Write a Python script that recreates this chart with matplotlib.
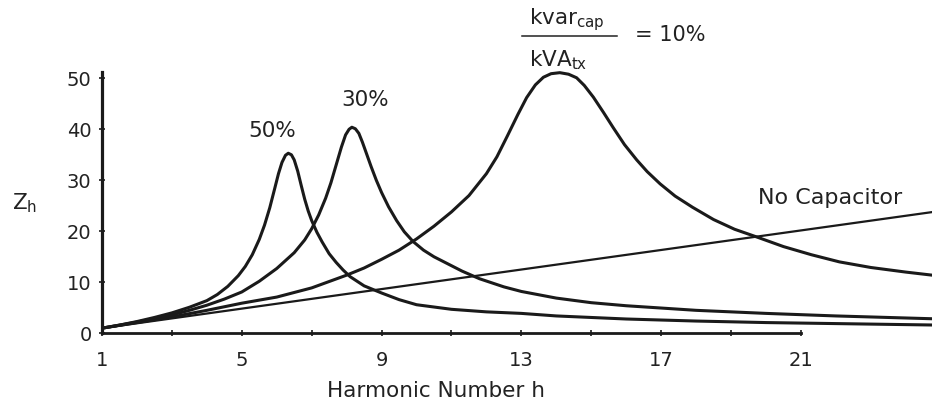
import matplotlib
matplotlib.use("Agg")
import matplotlib.pyplot as plt
from matplotlib.lines import Line2D

plt.rcParams['font.family'] = ['DejaVu Sans']
plt.rcParams['mathtext.fontset'] = 'dejavusans'

# ---- data ----
h_nocap = [1.0, 25.0]
z_nocap = [1.0, 24.0]

h_10 = [1, 2, 3, 4, 5, 6, 7, 8, 8.5, 9, 9.5, 10, 10.5, 11, 11.5, 12.0, 12.3, 12.6,
        12.9, 13.15, 13.4, 13.63, 13.85, 14.1, 14.35, 14.58, 14.8, 15.06, 15.35,
        15.63, 15.95, 16.3, 16.6, 16.97, 17.4, 17.9, 18.5, 19.1, 19.77, 20.5, 21.3,
        22.1, 23, 24, 25]
z_10 = [1.0, 2.1, 3.2, 4.5, 5.9, 7.1, 8.9, 11.4, 12.8, 14.5, 16.3, 18.5, 21.0, 23.8,
        27.0, 31.3, 34.6, 38.7, 42.9, 46.2, 48.7, 50.2, 50.9, 51.1, 50.8, 50.1, 48.6,
        46.3, 43.3, 40.3, 37.0, 34.0, 31.7, 29.3, 26.9, 24.7, 22.3, 20.4, 18.8, 17.0,
        15.4, 14.0, 12.9, 12.0, 11.2]

h_30 = [1, 1.5, 2, 2.5, 3, 3.5, 4, 4.5, 5, 5.5, 6.0, 6.5, 6.8, 7.0, 7.2, 7.4, 7.55,
        7.7, 7.85, 7.97, 8.07, 8.15, 8.25, 8.35, 8.45, 8.57, 8.7, 8.85, 9.0, 9.2, 9.43,
        9.65, 9.9, 10.2, 10.5, 10.9, 11.3, 11.8, 12.5, 13, 14, 15, 16, 18, 20, 22, 25]
z_30 = [1.0, 1.6, 2.2, 2.9, 3.6, 4.5, 5.5, 6.7, 8.1, 10.2, 12.7, 15.8, 18.3, 20.5,
        23.2, 26.5, 29.5, 33.0, 36.5, 38.9, 40.0, 40.4, 40.1, 39.2, 37.5, 35.2, 32.7,
        30.0, 27.6, 24.8, 22.1, 19.9, 18.0, 16.3, 15.0, 13.6, 12.2, 10.7, 9.1, 8.2,
        6.9, 6.0, 5.4, 4.5, 3.9, 3.4, 2.8]

h_50 = [1.0, 1.5, 2.0, 2.5, 3.0, 3.5, 4.0, 4.3, 4.6, 4.9, 5.1, 5.3, 5.5, 5.65, 5.8,
        5.95, 6.05, 6.15, 6.25, 6.33, 6.42, 6.5, 6.6, 6.7, 6.8, 6.9, 7.0, 7.15, 7.3,
        7.5, 7.7, 7.9, 8.1, 8.5, 9.0, 9.5, 10, 11, 12, 13, 14, 16, 18, 20, 22, 25]
z_50 = [1.0, 1.6, 2.3, 3.1, 4.0, 5.1, 6.4, 7.6, 9.2, 11.3, 13.1, 15.4, 18.4, 21.2,
        24.6, 28.6, 31.3, 33.5, 34.9, 35.3, 35.0, 34.0, 31.8, 29.0, 26.3, 24.0, 22.1,
        19.8, 17.9, 15.6, 13.9, 12.4, 11.1, 9.3, 7.9, 6.6, 5.6, 4.7, 4.2, 3.9, 3.4,
        2.8, 2.4, 2.1, 1.9, 1.6]

x_major = [1, 5, 9, 13, 17, 21]
x_minor = [3, 7, 11, 15, 19]
y_ticks = [0, 10, 20, 30, 40, 50]

ink = '#1a1a1a'
txt = '#222222'

W, H = 932, 403
fig = plt.figure(figsize=(W / 100, H / 100), dpi=100)
ax = fig.add_axes([102 / W, 0.173, 1 - 102 / W, 0.7593])

ax.plot(h_nocap, z_nocap, color=ink, lw=1.6, solid_capstyle='butt')
for hh, zz in [(h_10, z_10), (h_30, z_30), (h_50, z_50)]:
    ax.plot(hh, zz, color=ink, lw=2.2, solid_joinstyle='round')

ax.set_xlim(1, 24.75)
ax.set_ylim(0, 60)

for s in ['top', 'right']:
    ax.spines[s].set_visible(False)
ax.spines['bottom'].set_bounds(1, 21)
ax.spines['left'].set_bounds(0, 51.3)
ax.spines['bottom'].set_linewidth(2.0)
ax.spines['left'].set_linewidth(2.3)
ax.spines['bottom'].set_color(ink)
ax.spines['left'].set_color(ink)

ax.set_xticks(x_major)
ax.set_xticks(x_minor, minor=True)
ax.set_yticks(y_ticks)
ax.tick_params(axis='x', which='both', direction='inout', length=5, width=1.2,
               colors=ink, labelcolor=txt, labelsize=14, pad=10)
ax.tick_params(axis='y', which='both', direction='inout', length=5, width=1.2,
               colors=ink, labelcolor=txt, labelsize=14, pad=5)

ax.set_xlabel('Harmonic Number h', fontsize=15.5, color=txt)
ax.xaxis.set_label_coords(0.402, -0.155)

fig.text(25 / W, 1 - 203 / H, r'Z$_\mathrm{h}$', fontsize=15.5, color=txt,
         ha='center', va='center')

ax.text(5.86, 39.7, '50%', fontsize=15.5, color=txt, ha='center', va='center')
ax.text(8.52, 45.7, '30%', fontsize=15.5, color=txt, ha='center', va='center')
ax.text(19.77, 26.5, 'No Capacitor', fontsize=16, color=txt, ha='left', va='center')

# ratio annotation (figure-pixel placement)
fig.text(529 / W, 1 - 24 / H, r'kvar$_{\mathrm{cap}}$', fontsize=15.5, color=txt,
         ha='left', va='baseline')
fig.text(529 / W, 1 - 66.7 / H, r'kVA$_{\mathrm{tx}}$', fontsize=15.5, color=txt,
         ha='left', va='baseline')
fig.add_artist(Line2D([522 / W, 617 / W], [1 - 36 / H, 1 - 36 / H],
                      transform=fig.transFigure, color=txt, lw=1.1))
fig.text(635 / W, 1 - 35 / H, '= 10%', fontsize=15, color=txt,
         ha='left', va='center')

fig.savefig('out.png', dpi=100)
